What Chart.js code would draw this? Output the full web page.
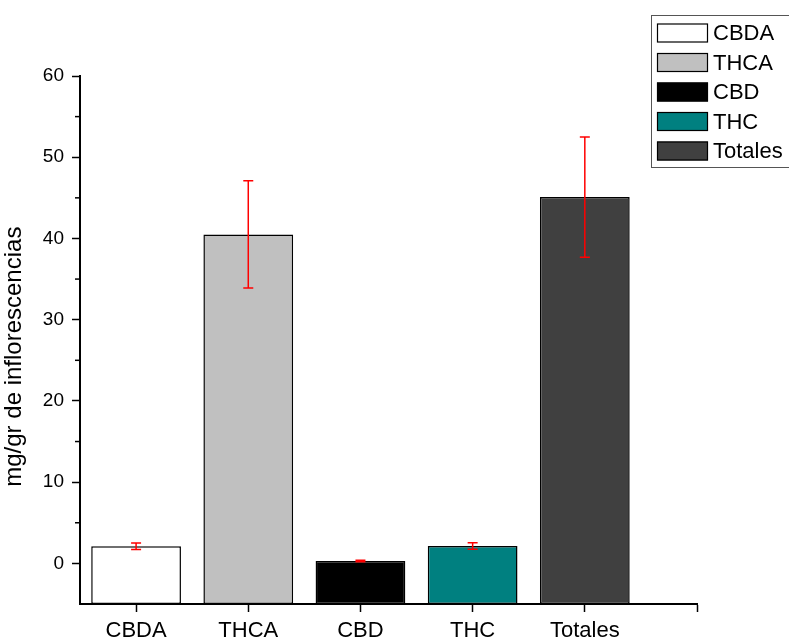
<!DOCTYPE html>
<html>
<head>
<meta charset="utf-8">
<script src="https://cdn.jsdelivr.net/npm/chart.js@4.4.0/dist/chart.umd.min.js"></script>
<style>
  html, body { margin: 0; padding: 0; background: #fff; }
  #wrap { width: 789px; height: 639px; position: relative; }
</style>
</head>
<body>
<div id="wrap"><canvas id="myBarChart"></canvas></div>
<script>
var categories = ['CBDA', 'THCA', 'CBD', 'THC', 'Totales'];
var values = [2.1, 40.5, 0.3, 2.15, 45.1];
var errors = [0.4, 6.6, 0.1, 0.4, 7.4];
var colors = ['#ffffff', '#c0c0c0', '#000000', '#008080', '#404040'];
var yTicks = [0, 10, 20, 30, 40, 50, 60];
var yMinorTicks = [5, 15, 25, 35, 45, 55];

var fontName = "'Liberation Sans', Arial, sans-serif";

// red error bars on top of the bars
var errorBars = {
    id: 'errorBars',
    afterDatasetsDraw: function (chart) {
        var ctx = chart.ctx;
        var meta = chart.getDatasetMeta(0);
        var y = chart.scales.y;
        ctx.save();
        ctx.strokeStyle = '#ff0000';
        ctx.lineWidth = 1.5;
        meta.data.forEach(function (bar, i) {
            var top = y.getPixelForValue(values[i] + errors[i]);
            var bot = y.getPixelForValue(values[i] - errors[i]);
            ctx.beginPath();
            ctx.moveTo(bar.x, top); ctx.lineTo(bar.x, bot);
            ctx.moveTo(bar.x - 5, top); ctx.lineTo(bar.x + 5, top);
            ctx.moveTo(bar.x - 5, bot); ctx.lineTo(bar.x + 5, bot);
            ctx.stroke();
        });
        ctx.restore();
    }
};

// short minor ticks on the y axis
var minorTicks = {
    id: 'minorTicks',
    afterDraw: function (chart) {
        var ctx = chart.ctx;
        var y = chart.scales.y;
        var x0 = chart.chartArea.left;
        ctx.save();
        ctx.strokeStyle = '#000';
        ctx.lineWidth = 1.5;
        yMinorTicks.forEach(function (v) {
            var py = y.getPixelForValue(v);
            ctx.beginPath();
            ctx.moveTo(x0 - 5, py); ctx.lineTo(x0, py);
            ctx.stroke();
        });
        ctx.restore();
    }
};

// boxed legend in the top right corner
var boxLegend = {
    id: 'boxLegend',
    afterDraw: function (chart) {
        var ctx = chart.ctx;
        ctx.save();
        ctx.fillStyle = '#fff';
        ctx.fillRect(651, 15, 150, 153);
        ctx.strokeStyle = '#555';
        ctx.lineWidth = 1;
        ctx.strokeRect(651.5, 15.5, 150, 152);
        ctx.font = '22px ' + fontName;
        ctx.textBaseline = 'middle';
        categories.forEach(function (name, i) {
            var cy = 33 + i * 29.5;
            ctx.fillStyle = colors[i];
            ctx.fillRect(657, cy - 9.5, 51, 19);
            ctx.strokeStyle = '#000';
            ctx.lineWidth = 1.2;
            ctx.strokeRect(657.5, cy - 9, 50, 18);
            ctx.fillStyle = '#000';
            ctx.fillText(name, 713, cy + 1);
        });
        ctx.restore();
    }
};

var ctx = document.getElementById('myBarChart').getContext('2d');
var myBarChart = new Chart(ctx, {
    type: 'bar',
    data: {
        datasets: [{
            data: values.map(function (v, i) { return { x: i + 1, y: v }; }),
            base: -5,
            backgroundColor: colors,
            borderColor: '#000',
            borderWidth: 1.5,
            borderSkipped: false,
            categoryPercentage: 0.8,
            barPercentage: 1.0
        }]
    },
    options: {
        responsive: true,
        maintainAspectRatio: false,
        animation: false,
        layout: { padding: { top: 76, right: 92, left: 0, bottom: 0 } },
        plugins: {
            legend: { display: false },
            tooltip: { enabled: false }
        },
        scales: {
            x: {
                type: 'linear',
                min: 0.5,
                max: 6,
                offset: false,
                afterBuildTicks: function (scale) {
                    scale.ticks = [1, 2, 3, 4, 5, 6].map(function (v) { return { value: v }; });
                },
                afterFit: function (scale) { scale.height = 35; },
                border: { display: true, color: '#000', width: 2 },
                grid: { offset: false, drawOnChartArea: false, drawTicks: true, tickLength: 8, color: '#000', tickWidth: 1.5 },
                ticks: {
                    autoSkip: false,
                    maxRotation: 0,
                    padding: 6,
                    color: '#000',
                    font: { family: fontName, size: 22 },
                    callback: function (v) { return categories[v - 1] || ''; }
                }
            },
            y: {
                min: -5,
                max: 60,
                afterBuildTicks: function (scale) {
                    scale.ticks = yTicks.map(function (v) { return { value: v }; });
                },
                afterFit: function (scale) { scale.width = 80; },
                border: { display: true, color: '#000', width: 2 },
                grid: { drawOnChartArea: false, drawTicks: true, tickLength: 8, color: '#000', tickWidth: 1.5 },
                ticks: {
                    padding: 8,
                    color: '#000',
                    font: { family: fontName, size: 19 }
                },
                title: {
                    display: true,
                    text: 'mg/gr de inflorescencias     ',
                    color: '#000',
                    font: { family: fontName, size: 24 },
                    padding: { top: 0, bottom: 0 }
                }
            }
        }
    },
    plugins: [errorBars, minorTicks, boxLegend]
});
</script>
</body>
</html>
